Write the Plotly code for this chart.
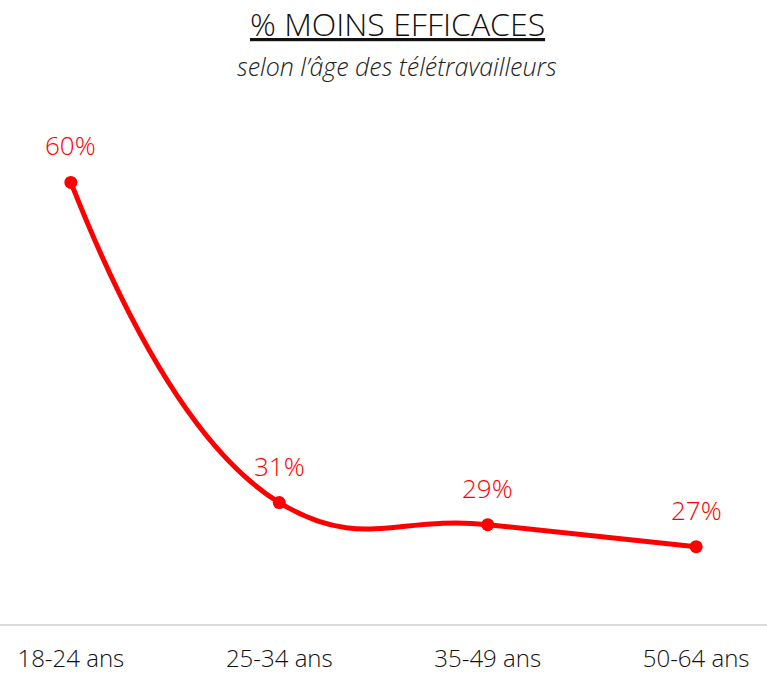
import plotly.graph_objects as go

# Tranches d'âge et part des télétravailleurs moins efficaces
ages = ['18-24 ans', '25-34 ans', '35-49 ans', '50-64 ans']
pct = [60, 31, 29, 27]
labels = ['60%', '31%', '29%', '27%']

ROUGE = '#FF0000'
POLICE = 'Open Sans'

fig = go.Figure(go.Scatter(
    x=ages,
    y=pct,
    mode='lines+markers',
    line=dict(color=ROUGE, width=5, shape='spline', smoothing=1.3),
    marker=dict(color=ROUGE, size=13),
    hoverinfo='skip',
))

# étiquettes au-dessus des points
for a, v, t in zip(ages, pct, labels):
    fig.add_annotation(x=a, y=v, text=t, showarrow=False, yshift=37,
                       font=dict(family=POLICE, size=26, color=ROUGE, weight=300))

# titre + sous-titre
fig.add_annotation(xref='paper', yref='paper', x=0.518, y=1, yshift=72,
                   text='<u>% MOINS EFFICACES</u>', showarrow=False,
                   font=dict(family=POLICE, size=32, color='#111111', weight=300))
fig.add_annotation(xref='paper', yref='paper', x=0.518, y=1, yshift=25,
                   text='<i>selon l’âge des télétravailleurs</i>', showarrow=False,
                   font=dict(family=POLICE, size=25, color='#222222', weight=300))

fig.update_layout(
    width=767, height=673,
    margin=dict(l=0, r=0, t=72, b=49),
    paper_bgcolor='white', plot_bgcolor='white',
    showlegend=False,
    xaxis=dict(
        range=[-0.34, 3.34],
        showgrid=False, zeroline=False,
        showline=True, linecolor='#D9D9D9', linewidth=2,
        ticks='outside', ticklen=12, tickcolor='white',
        tickfont=dict(family=POLICE, size=24, color='#111111', weight=300),
    ),
    yaxis=dict(range=[20, 70], visible=False),
)

fig.write_html('out.html', config={'displayModeBar': False},
               post_script="document.body.style.margin='0';document.body.style.overflow='hidden';")
